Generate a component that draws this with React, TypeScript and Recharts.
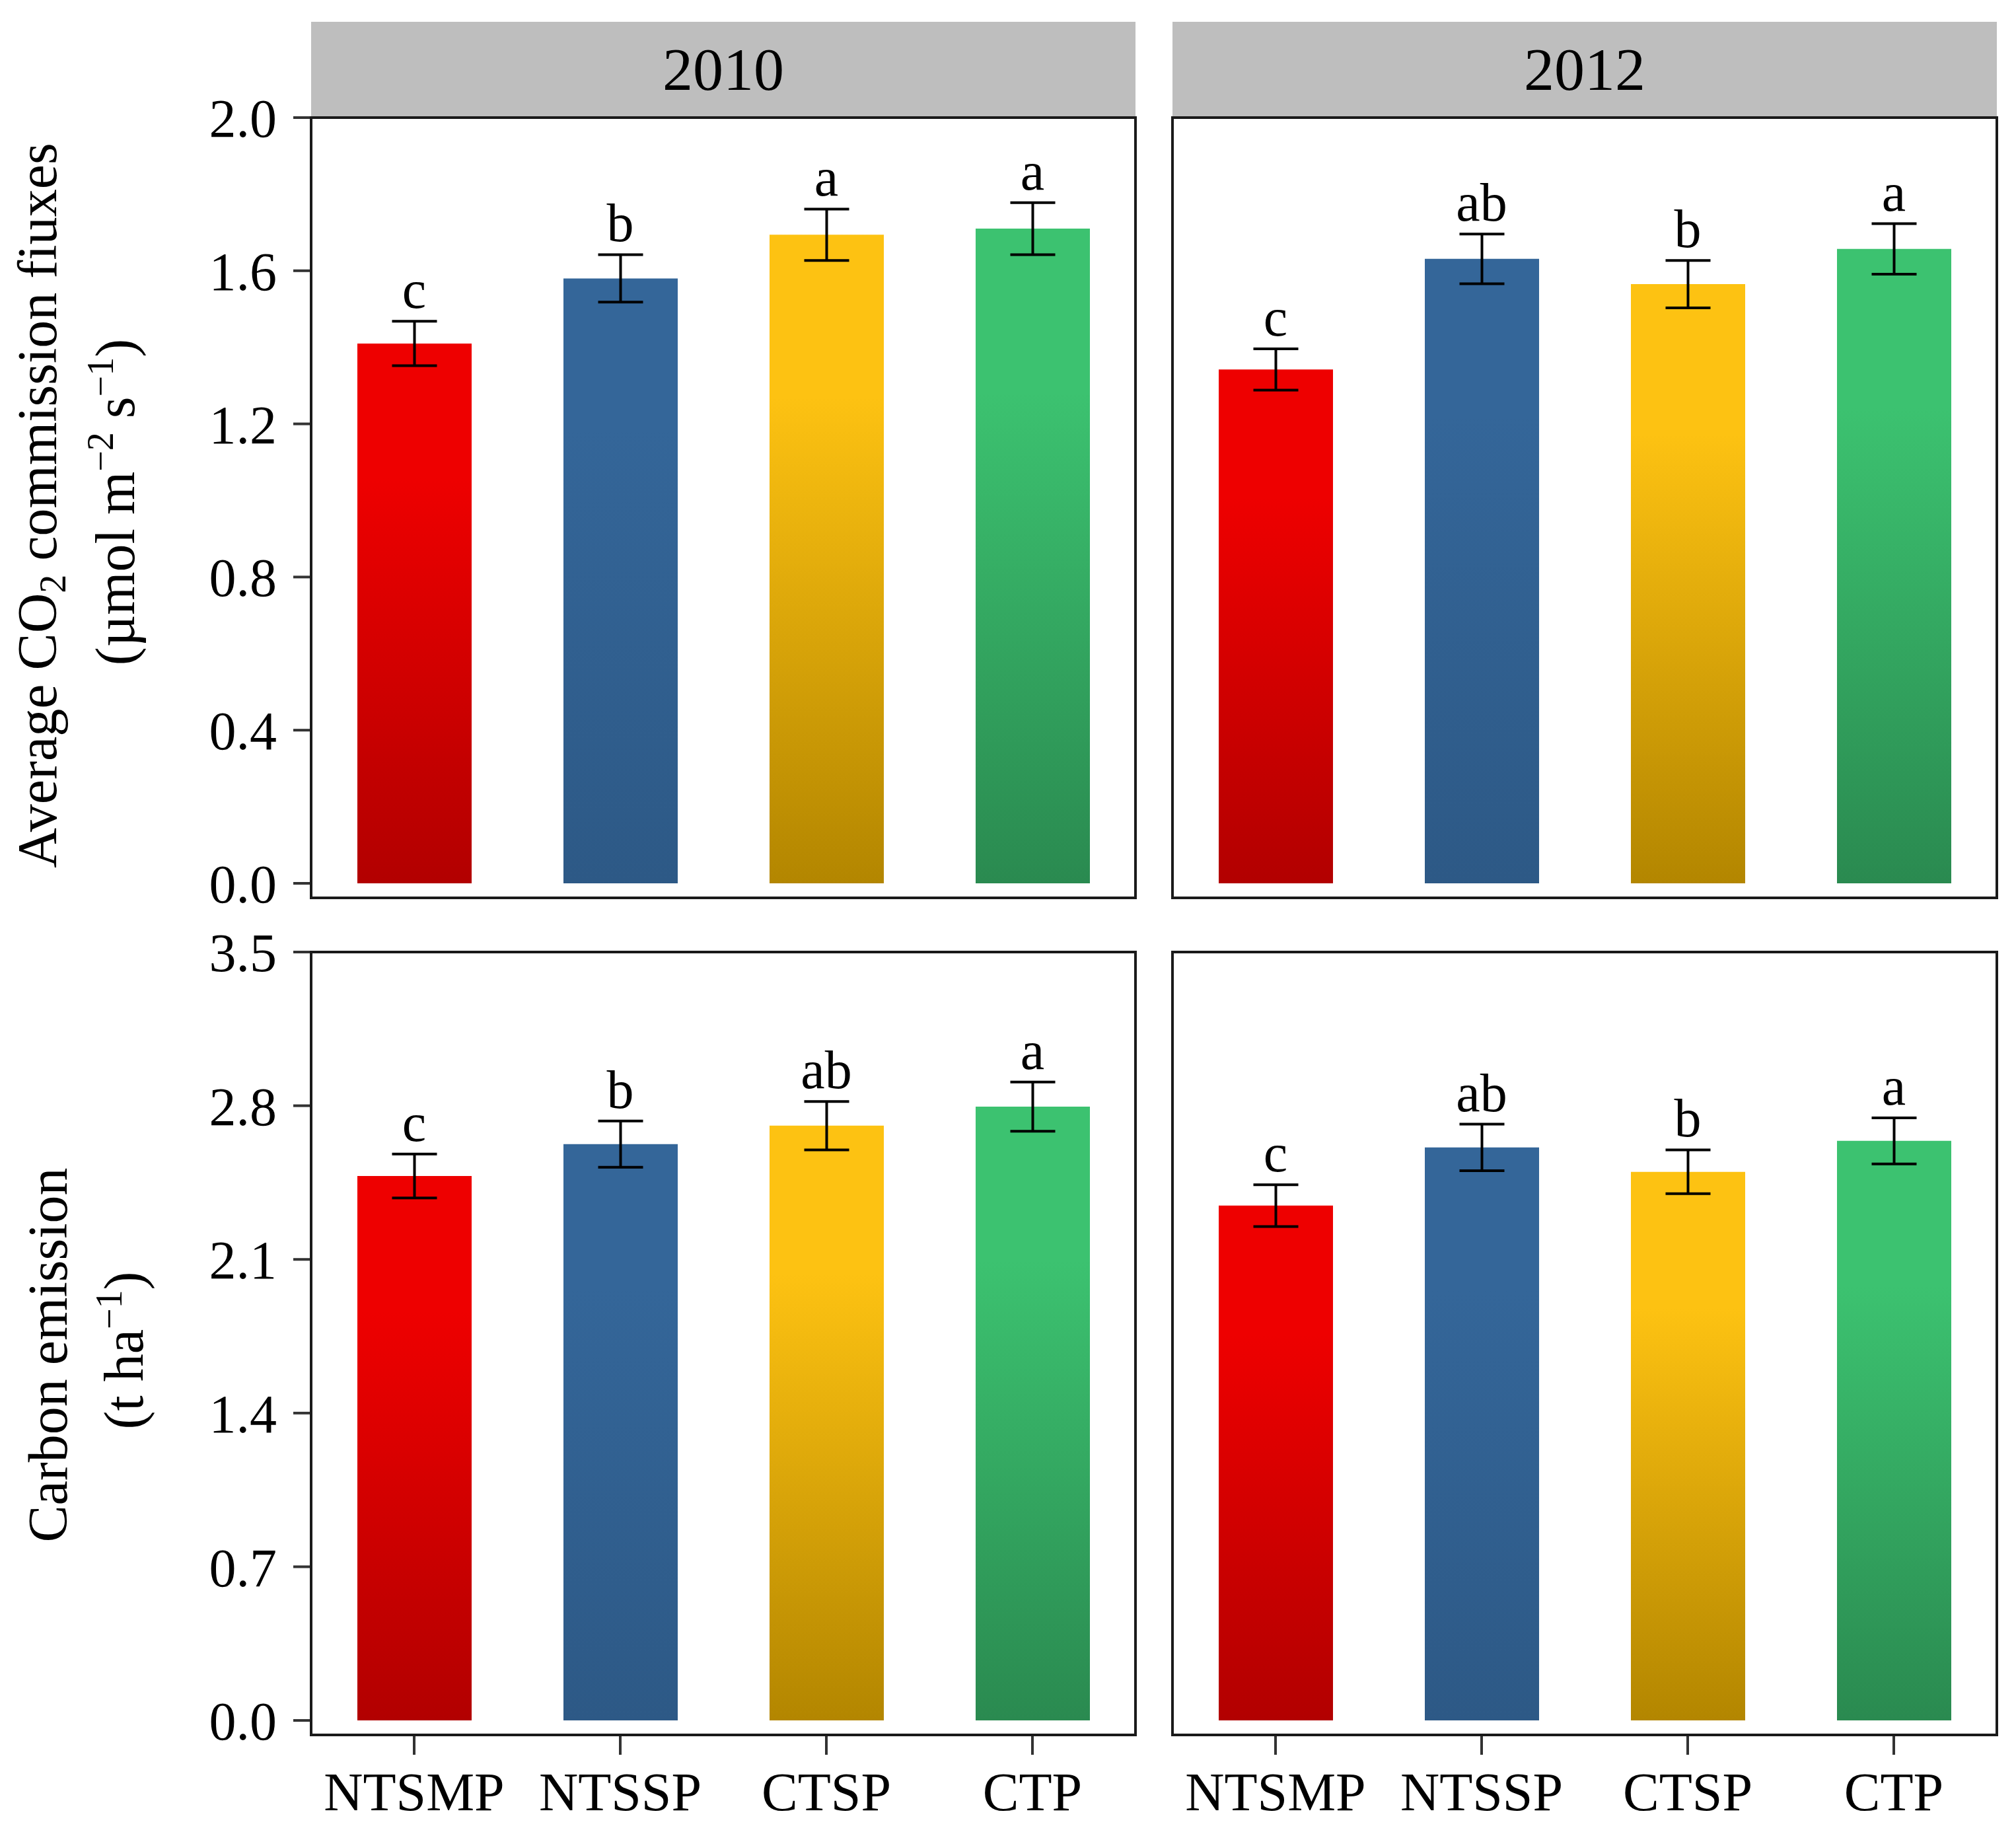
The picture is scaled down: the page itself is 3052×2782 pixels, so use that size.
import React from "react";
import {
  ComposedChart,
  Bar,
  Line,
  XAxis,
  YAxis,
  ErrorBar,
  LabelList,
  Cell,
} from "recharts";

const groups = ["NTSMP", "NTSSP", "CTSP", "CTP"];

// Average CO2 emission fluxes (umol m-2 s-1)
const flux2010 = [1.41, 1.58, 1.694, 1.71];
const fluxSe2010 = [0.058, 0.062, 0.067, 0.068];
const fluxLetters2010 = ["c", "b", "a", "a"];

const flux2012 = [1.342, 1.631, 1.565, 1.657];
const fluxSe2012 = [0.054, 0.065, 0.062, 0.066];
const fluxLetters2012 = ["c", "ab", "b", "a"];

// Carbon emission (t ha-1)
const carbon2010 = [2.48, 2.625, 2.709, 2.796];
const carbonSe2010 = [0.1, 0.105, 0.11, 0.112];
const carbonLetters2010 = ["c", "b", "ab", "a"];

const carbon2012 = [2.345, 2.61, 2.499, 2.64];
const carbonSe2012 = [0.095, 0.106, 0.1, 0.105];
const carbonLetters2012 = ["c", "ab", "b", "a"];

const fluxTicks = [0, 0.4, 0.8, 1.2, 1.6, 2.0];
const carbonTicks = [0, 0.7, 1.4, 2.1, 2.8, 3.5];

const topColors = ["#EE0000", "#346699", "#FDC212", "#3CC270"];
const bottomColors = ["#B20000", "#2D5986", "#B38600", "#2A8A50"];

const FONT = "'Liberation Serif', 'Times New Roman', serif";

const rows = (values: number[], se: number[], letters: string[]) =>
  groups.map((g, i) => ({
    group: g,
    value: values[i],
    se: se[i],
    top: values[i] + se[i],
    letter: letters[i],
  }));

const PLOT_W = 1248;
const Y_W = 471;
const PAD = 60;

type PanelProps = {
  id: string;
  data: ReturnType<typeof rows>;
  domain: [number, number];
  ticks: number[];
  showY: boolean;
  showX: boolean;
  left: number;
  top: number;
  plotH: number;
};

const Panel = ({ id, data, domain, ticks, showY, showX, left, top, plotH }: PanelProps) => {
  const xH = showX ? 140 : 0;
  const padBottom = showX ? 0 : PAD;
  const width = (showY ? Y_W : 0) + PLOT_W + 20;
  const height = plotH + xH + PAD + padBottom;
  return (
    <div style={{ position: "absolute", left, top: top - PAD }}>
      <ComposedChart
        width={width}
        height={height}
        data={data}
        margin={{ top: PAD, right: 20, bottom: padBottom, left: 0 }}
      >
        <defs>
          {topColors.map((c, i) => (
            <linearGradient key={i} id={`${id}-g${i}`} x1="0" y1="0" x2="0" y2="1">
              <stop offset="0%" stopColor={c} />
              <stop offset="25%" stopColor={c} />
              <stop offset="100%" stopColor={bottomColors[i]} />
            </linearGradient>
          ))}
        </defs>
        <XAxis
          dataKey="group"
          hide={!showX}
          height={xH}
          axisLine={false}
          tickSize={30}
          tickMargin={26}
          tickLine={{ stroke: "#333", strokeWidth: 4 }}
          tick={{ fill: "#000", fontSize: 82, fontFamily: FONT }}
          interval={0}
        />
        <YAxis
          hide={!showY}
          width={Y_W}
          type="number"
          domain={domain}
          ticks={ticks}
          interval={0}
          allowDataOverflow
          axisLine={false}
          tickSize={27}
          tickMargin={25}
          tickLine={{ stroke: "#333", strokeWidth: 4 }}
          tick={{ fill: "#000", fontSize: 82, fontFamily: FONT }}
          tickFormatter={(v: number) => v.toFixed(1)}
        />
        <Bar dataKey="value" barSize={173} isAnimationActive={false}>
          {data.map((_, i) => (
            <Cell key={i} fill={`url(#${id}-g${i})`} />
          ))}
          <ErrorBar dataKey="se" width={34} stroke="#000" strokeWidth={4} />
        </Bar>
        <Line
          dataKey="top"
          stroke="none"
          dot={false}
          activeDot={false}
          legendType="none"
          isAnimationActive={false}
        >
          <LabelList
            dataKey="letter"
            position="top"
            offset={20}
            fill="#000"
            fontSize={82}
            fontFamily={FONT}
          />
        </Line>
      </ComposedChart>
    </div>
  );
};

const Border = ({ x, y, w, h }: { x: number; y: number; w: number; h: number }) => (
  <div
    style={{
      position: "absolute",
      left: x - 2,
      top: y - 2,
      width: w + 4,
      height: h + 4,
      border: "4px solid #1a1a1a",
      boxSizing: "border-box",
      pointerEvents: "none",
    }}
  />
);

const Strip = ({ x, label }: { x: number; label: string }) => (
  <div
    style={{
      position: "absolute",
      left: x,
      top: 33,
      width: PLOT_W,
      height: 145,
      background: "#BEBEBE",
      fontFamily: FONT,
      fontSize: 92,
      lineHeight: "145px",
      textAlign: "center",
      color: "#000",
    }}
  >
    {label}
  </div>
);

export default function App() {
  const topY = 178;
  const topH = 1181;
  const botY = 1441;
  const botH = 1185;
  const rightX = 1775;
  return (
    <div style={{ position: "absolute", left: 0, top: 0, width: 3052, height: 2782, background: "#fff" }}>
      <Strip x={Y_W} label="2010" />
      <Strip x={rightX} label="2012" />

      <Panel id="p1" data={rows(flux2010, fluxSe2010, fluxLetters2010)} domain={[-0.038, 2.0]} ticks={fluxTicks}
        showY showX={false} left={0} top={topY} plotH={topH} />
      <Panel id="p2" data={rows(flux2012, fluxSe2012, fluxLetters2012)} domain={[-0.038, 2.0]} ticks={fluxTicks}
        showY={false} showX={false} left={rightX} top={topY} plotH={topH} />
      <Panel id="p3" data={rows(carbon2010, carbonSe2010, carbonLetters2010)} domain={[-0.066, 3.5]} ticks={carbonTicks}
        showY showX left={0} top={botY} plotH={botH} />
      <Panel id="p4" data={rows(carbon2012, carbonSe2012, carbonLetters2012)} domain={[-0.066, 3.5]} ticks={carbonTicks}
        showY={false} showX left={rightX} top={botY} plotH={botH} />

      <Border x={Y_W} y={topY} w={PLOT_W} h={topH} />
      <Border x={rightX} y={topY} w={PLOT_W} h={topH} />
      <Border x={Y_W} y={botY} w={PLOT_W} h={botH} />
      <Border x={rightX} y={botY} w={PLOT_W} h={botH} />

      <svg width={300} height={2782} style={{ position: "absolute", left: 0, top: 0 }}>
        <g fontFamily={FONT} fontSize={84} fill="#000">
          <text transform="translate(85,765) rotate(-90)" textAnchor="middle">
            Average CO<tspan dy={14} fontSize={56}>2</tspan>
            <tspan dy={-14}> commission fiuxes</tspan>
          </text>
          <text transform="translate(203,760) rotate(-90)" textAnchor="middle">
            (µmol m<tspan dy={-32} fontSize={56}>−2</tspan>
            <tspan dy={32}> s</tspan>
            <tspan dy={-32} fontSize={56}>−1</tspan>
            <tspan dy={32}>)</tspan>
          </text>
          <text transform="translate(101,2051) rotate(-90)" textAnchor="middle">
            Carbon emission
          </text>
          <text transform="translate(216,2044) rotate(-90)" textAnchor="middle">
            (t ha<tspan dy={-32} fontSize={56}>−1</tspan>
            <tspan dy={32}>)</tspan>
          </text>
        </g>
      </svg>
    </div>
  );
}
